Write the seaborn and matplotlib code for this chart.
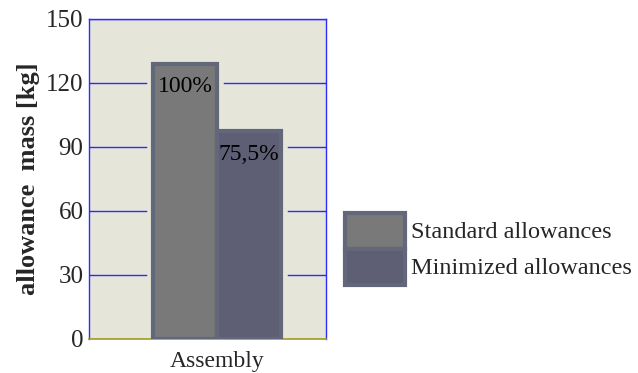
import pandas as pd
import matplotlib.pyplot as plt
import seaborn as sns

# values
categories = ["Assembly", "Assembly"]
series = ["Standard allowances", "Minimized allowances"]
mass_kg = [129, 97.4]
bar_labels = ["100%", "75,5%"]
yticks = [0, 30, 60, 90, 120, 150]

face_colors = ["#797979", "#5b5b77"]
edge_color = "#63677a"
bg_color = "#e6e5da"

df = pd.DataFrame({"group": categories, "series": series, "mass": mass_kg})

sns.set_theme(style="white")
plt.rcParams["font.family"] = ["Liberation Serif", "DejaVu Serif"]

fig = plt.figure(figsize=(6.38, 3.73), dpi=100)
ax = fig.add_axes([0.1395, 0.0912, 0.3715, 0.8579])
ax.set_facecolor(bg_color)

# halo layer that cuts the gridlines around the bars
sns.barplot(data=df, x="group", y="mass", hue="series", ax=ax,
            palette=[bg_color, bg_color], edgecolor=bg_color, linewidth=9,
            legend=False, zorder=2)
# real bars
sns.barplot(data=df, x="group", y="mass", hue="series", ax=ax,
            palette=face_colors, edgecolor=edge_color, linewidth=3, zorder=3)

for cont, lab in zip(ax.containers[2:], bar_labels):
    ax.bar_label(cont, labels=[lab], label_type="edge", padding=-24,
                 fontsize=17, color="black", zorder=5)

ax.set_ylim(0, 150)
ax.set_xlim(-0.8, 0.68)
ax.set_yticks(yticks)
ax.yaxis.grid(True, color="#2b2bff", linewidth=1)
ax.set_axisbelow(True)
ax.tick_params(axis="y", length=0, labelsize=18, pad=4)
ax.tick_params(axis="x", length=0, labelsize=17, pad=9)
ax.set_xlabel("")
ax.set_ylabel("allowance  mass [kg]", fontsize=19, fontweight="bold", labelpad=4)

for side in ["left", "right", "top"]:
    ax.spines[side].set_color("#2b2bff")
    ax.spines[side].set_linewidth(1)
ax.spines["bottom"].set_color("#a0a020")
ax.spines["bottom"].set_linewidth(1.2)

handles, labels = ax.get_legend_handles_labels()
ax.get_legend().remove()
fig.legend(handles[-2:], labels[-2:], loc="upper left",
           bbox_to_anchor=(0.54, 0.43), frameon=False, fontsize=17.5,
           borderpad=0, borderaxespad=0, handlelength=2.5, handleheight=1.9,
           labelspacing=0, handletextpad=0.25)

fig.savefig("out.png", dpi=100)
